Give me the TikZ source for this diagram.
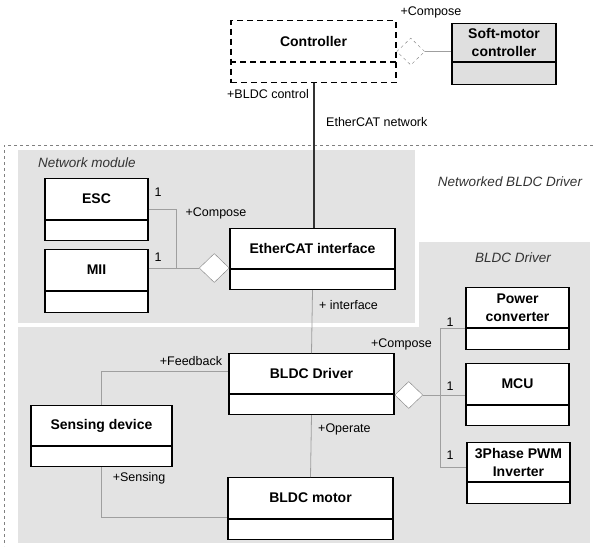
\documentclass[tikz,border=0pt]{standalone}
\usepackage{fontspec}
\setmainfont{Liberation Sans}
\usetikzlibrary{shapes.geometric}

% class box: [style]{name}{centre x}{top}{width}{height}{head height}{text}
\newcommand{\umlclass}[8][]{%
	\node[classbox, #1, minimum width=#5pt, minimum height=#6pt, anchor=north] (#2) at (#3,#4) {};
	\draw[classbox, #1] ([yshift=-#7pt]#2.north west) -- ([yshift=-#7pt]#2.north east);
	\node[classname] (#2-name) at ([yshift=-#7/2]#2.north) {#8};
}

\begin{document}
\begin{tikzpicture}[x=1pt, y=-1pt,
	classbox/.style={draw, line width=1.1pt, fill=white, inner sep=0pt},
	classname/.style={font=\fontsize{14}{18}\selectfont\bfseries, align=center, inner sep=0pt},
	aggr/.style={diamond, draw=gray, fill=white, inner sep=0pt, minimum width=28pt, minimum height=27pt},
	link/.style={draw=gray!75, line width=0.8pt},
	bus/.style={draw=black!80, line width=2pt},
	lbl/.style={font=\fontsize{12.5}{14}\selectfont, inner sep=1pt},
	pkg/.style={font=\fontsize{13.5}{15}\selectfont\itshape, text=black!80, inner sep=1pt},
	shade/.style={fill=gray!22}]
	\useasboundingbox (0,0) rectangle (593,546);

	% packages
	\fill[shade] (18,242) rectangle (590,543);
	\fill[white] (12,147) rectangle (419,327);
	\fill[shade] (18,150) rectangle (415,323);
	\draw[gray, dashed, line width=0.6pt] (593,145) -| (4,546);
	\node[pkg, anchor=west] (l-nm) at (37,163) {Network module};
	\node[pkg] (l-nbd) at (510,182) {Networked BLDC Driver};
	\node[pkg] (l-bd) at (513,258) {BLDC Driver};

	% classes
	\umlclass[dash pattern=on 6pt off 4pt]{ctrl}{313.5}{20}{165}{62}{42}{Controller}
	\umlclass[fill=gray!25]{soft}{504}{23}{104}{61}{39}{Soft-motor\\controller}
	\umlclass{esc}{96.5}{178}{103}{62}{42}{ESC}
	\umlclass{mii}{96.5}{249}{103}{63}{42}{MII}
	\umlclass{ecat}{312.5}{228}{165}{61}{41}{EtherCAT interface}
	\umlclass{pconv}{517.5}{287}{103}{62}{41}{Power\\converter}
	\umlclass{drv}{311.5}{353}{165}{61}{41}{BLDC Driver}
	\umlclass{mcu}{517.5}{363}{103}{62}{42}{MCU}
	\umlclass{sens}{101.5}{405}{141}{61}{41}{Sensing device}
	\umlclass{pwm}{518.5}{442}{103}{61}{40}{3Phase PWM\\Inverter}
	\umlclass{motor}{310.5}{477}{165}{62}{42}{BLDC motor}

	% controller
	\node[aggr, dashed, anchor=west] (ctrl-agg) at (ctrl.east) {};
	\draw[link] (ctrl-agg.east) -- (ctrl-agg.east -| soft.west);
	\node[lbl] (l-cmp1) at (431,12) {+Compose};
	\draw[bus] (ctrl.south) -- (ctrl.south |- ecat.north);
	\node[lbl, anchor=east] (l-bldc) at (310,94) {+BLDC control};
	\node[lbl, anchor=west] (l-net) at (325,122) {EtherCAT network};

	% network module
	\node[aggr, anchor=east, minimum width=30pt, minimum height=29pt] (ecat-agg) at (ecat.west |- 0,268) {};
	\coordinate (jn) at (176,0);
	\draw[link] (esc.east) -| (jn |- ecat-agg.west) -- (ecat-agg.west);
	\draw[link] (mii.east |- ecat-agg.west) -- (ecat-agg.west);
	\node[lbl] (l-one1) at (158,192) {1};
	\node[lbl] (l-one2) at (158,257) {1};
	\node[lbl] (l-cmp2) at (216,213) {+Compose};
	\draw[link] (ecat.south) -- (drv.north);
	\node[lbl, anchor=west] (l-if) at (318,305) {+ interface};

	% driver
	\node[aggr, anchor=west] (drv-agg) at (drv.east |- 0,395) {};
	\coordinate (jd) at (440,0);
	\draw[link] (drv-agg.east) -- (drv-agg.east -| mcu.west);
	\draw[link] (pconv.west |- 0,328) -| (jd |- 0,467) -- (pwm.west |- 0,467);
	\node[lbl] (l-one3) at (450,322) {1};
	\node[lbl] (l-one4) at (450,386) {1};
	\node[lbl] (l-one5) at (450,455) {1};
	\node[lbl, anchor=east] (l-cmp3) at (433,344) {+Compose};

	\draw[link] (sens.north) |- ([yshift=12.5pt]drv.west);
	\node[lbl] (l-fb) at (191,361) {+Feedback};
	\draw[link] (sens.south) |- ([yshift=-9pt]motor.west);
	\node[lbl] (l-sens) at (139,478) {+Sensing};
	\draw[link] (drv.south) -- (motor.north);
	\node[lbl, anchor=west] (l-op) at (317,429) {+Operate};
\end{tikzpicture}
\end{document}
